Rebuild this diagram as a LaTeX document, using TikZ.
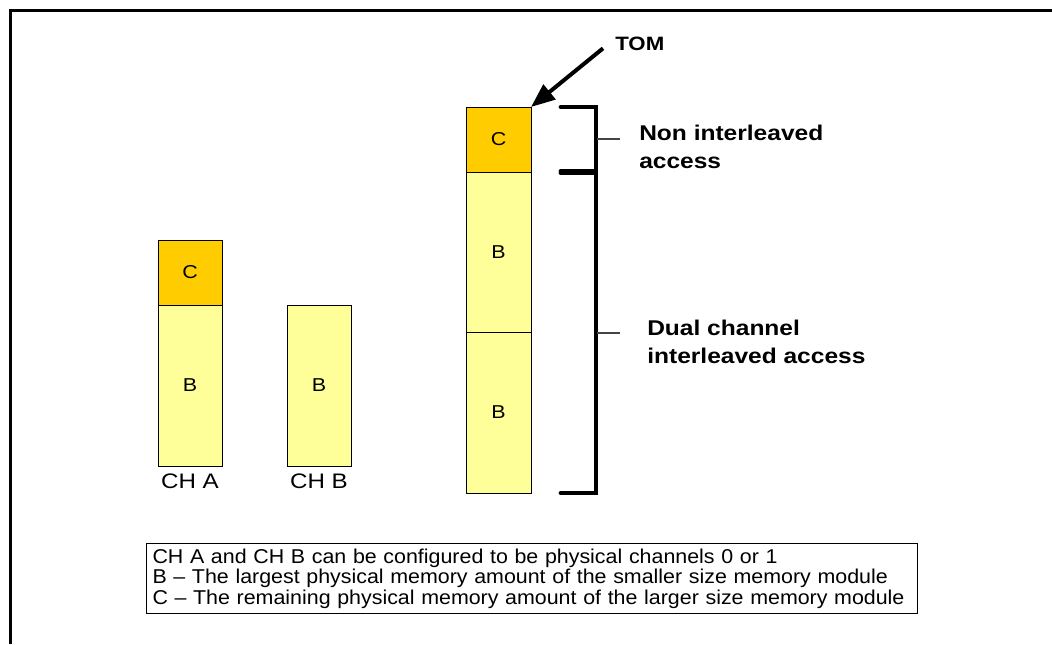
\documentclass[tikz,border=0pt]{standalone}
\usepackage{fontspec}
\setmainfont{Liberation Sans}
\newfontfamily\dfont[FakeStretch=1.15]{Liberation Sans}
\newfontfamily\lfont[FakeStretch=1.07]{Liberation Sans}
\usetikzlibrary{arrows.meta,calc}
\definecolor{cfill}{HTML}{FFCC00}
\definecolor{bfill}{HTML}{FFFF99}
\definecolor{thin}{HTML}{444444}
\begin{document}
\begin{tikzpicture}[x=0.75pt,y=-0.75pt,
  mem/.style={draw=black,line width=0.75pt,inner sep=0pt,outer sep=0pt,anchor=north west,
    font=\dfont\fontsize{14}{16}\selectfont},
  cmem/.style={mem,fill=cfill},
  bmem/.style={mem,fill=bfill},
  chlabel/.style={inner sep=0pt,anchor=base,font=\dfont\fontsize{15.75}{18}\selectfont},
  acclabel/.style={inner sep=0pt,anchor=base west,font=\dfont\bfseries\fontsize{16}{19}\selectfont},
  legend/.style={draw=black,line width=0.75pt,anchor=north west,inner xsep=4.5pt,inner ysep=0pt,
    minimum width=578.25pt,minimum height=52.5pt,text width=569.25pt,align=left,
    font=\lfont\fontsize{15}{15.4}\selectfont},
  bracket/.style={line width=3.6pt,line cap=round,line join=miter},
  tick/.style={draw=thin,line width=0.8pt},
  pointer/.style={line width=3pt,-{Triangle[length=18pt,width=14pt]}}
]
\useasboundingbox (0,0) rectangle (1052,644);
% outer frame (top and left edges)
\draw[line width=1.75pt] (1052,10.5) -- (10.5,10.5) -- (10.5,644);

% CH A
\node[cmem,minimum width=48pt,minimum height=48.75pt] (ac) at (158,240) {C};
\node[bmem,minimum width=48pt,minimum height=120.75pt] (ab) at (158,305) {B};
\node[chlabel] (cha) at (190,488) {CH A};
% CH B
\node[bmem,minimum width=48pt,minimum height=120.75pt] (bb) at (287,305) {B};
\node[chlabel] (chb) at (319,488) {CH B};
% combined
\node[cmem,minimum width=48.75pt,minimum height=48.75pt] (rc) at (466,107) {C};
\node[bmem,minimum width=48.75pt,minimum height=120pt] (rb1) at (466,172) {B};
\node[bmem,minimum width=48.75pt,minimum height=120.75pt] (rb2) at (466,332) {B};

% TOM
\node[inner sep=0pt,anchor=base west,font=\dfont\bfseries\fontsize{14.5}{17}\selectfont] (tom) at (615,50) {TOM};
\draw[pointer] ($(tom.west)+(-12,5)$) -- (rc.north east);

% brackets
\draw[bracket] (561,107) -- (596,107) -- (596,171) -- (561,171);
\draw[bracket] (561,173) -- (596,173) -- (596,493) -- (561,493);
\coordinate (nim) at (597,139);
\coordinate (nie) at (620,139);
\coordinate (dcm) at (597,333);
\coordinate (dce) at (620,333);
\draw[tick] (nim) -- (nie);
\draw[tick] (dcm) -- (dce);

\node[acclabel] (ni1) at (639,140) {Non interleaved};
\node[acclabel] (ni2) at (639,168) {access};
\node[acclabel] (dc1) at (647,335) {Dual channel};
\node[acclabel] (dc2) at (647,363) {interleaved access};

% legend
\node[legend] (leg) at (146,543) {CH A and CH B can be configured to be physical channels 0 or 1\\
B – The largest physical memory amount of the smaller size memory module\\
C – The remaining physical memory amount of the larger size memory module};
\end{tikzpicture}
\end{document}
